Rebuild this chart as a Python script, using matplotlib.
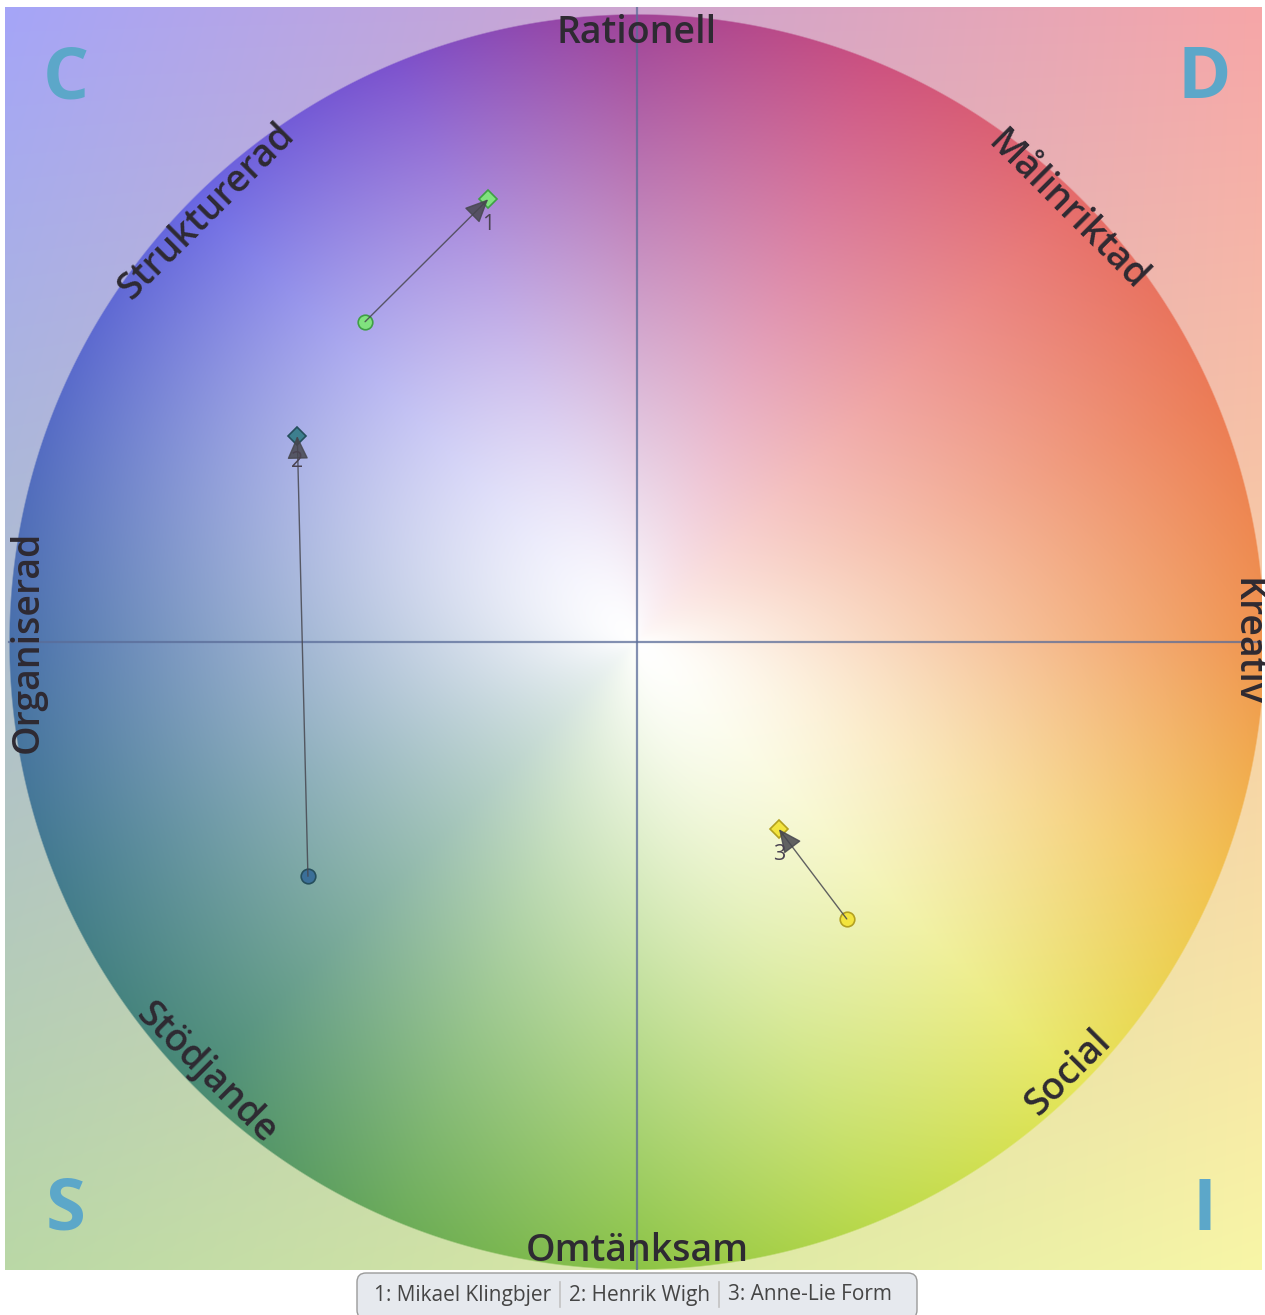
import numpy as np
import matplotlib
matplotlib.use("Agg")
import matplotlib.pyplot as plt
from matplotlib.patches import FancyBboxPatch

# ---------------- data ----------------
axis_labels = ["Kreativ", "Målinriktad", "Rationell", "Strukturerad",
               "Organiserad", "Stödjande", "Omtänksam", "Social"]
axis_angles = [0, 45, 90, 135, 180, 225, 270, 315]
corner_letters = ["C", "D", "S", "I"]
corner_x = [-91.0, 90.3, -91.0, 90.3]
corner_y = [89.6, 89.6, -90.6, -90.6]
person_ids = ["1", "2", "3"]
person_names = ["Mikael Klingbjer", "Henrik Wigh", "Anne-Lie Form"]
start_x = [-43.3, -52.4, 33.4]
start_y = [51.0, -37.3, -44.1]
end_x = [-23.7, -54.1, 22.6]
end_y = [70.5, 32.8, -29.8]
point_fill = ["#80e27e", "#3d7f8f", "#f3e43e"]
start_fill = ["#80e27e", "#3b6f98", "#f3e43e"]
point_edge = ["#3f9f45", "#254e5c", "#b3a020"]

# ---------------- figure ----------------
W, H = 1265, 1315
fig = plt.figure(figsize=(W / 100, H / 100), dpi=100)
fig.patch.set_facecolor("white")
px = 6.28  # pixels per data unit (R = 100)
left_px, right_px, top_px, bot_px = 5, 1262, 7, 1270
cx, cy = 637, 642
ax = fig.add_axes([left_px / W, (H - bot_px) / H,
                   (right_px - left_px) / W, (bot_px - top_px) / H])
x0, x1 = (left_px - cx) / px, (right_px - cx) / px
y0, y1 = (cy - bot_px) / px, (cy - top_px) / px
ax.set_xlim(x0, x1)
ax.set_ylim(y0, y1)
ax.set_axis_off()

# ---------------- background ----------------
nx, ny = right_px - left_px, bot_px - top_px
xs = np.linspace(x0, x1, nx)
ys = np.linspace(y1, y0, ny)
X, Y = np.meshgrid(xs, ys)
r = np.sqrt(X ** 2 + Y ** 2) / 100.0
th = np.degrees(np.arctan2(Y, X)) % 360

anc_a = np.array([0, 22.5, 45, 67.5, 90, 112.5, 135, 157.5, 180, 202.5,
                  225, 247.5, 270, 292.5, 315, 337.5, 360])
anc_c = np.array([
    (240, 148, 78), (236, 124, 86), (230, 108, 106), (205, 82, 128),
    (160, 66, 150), (125, 82, 205), (105, 102, 226), (88, 108, 200),
    (72, 112, 170), (68, 124, 142), (72, 138, 116), (108, 172, 90),
    (140, 196, 70), (188, 218, 76), (230, 230, 90), (242, 194, 80),
    (240, 148, 78)], dtype=float)
hue = np.stack([np.interp(th, anc_a, anc_c[:, k]) for k in range(3)], axis=-1)
p = 1.1 + 0.3 * np.cos(np.radians(2 * (th - 135)))
f = np.clip(r, 0, 1) ** p
inner = 255 * (1 - f[..., None]) + hue * f[..., None]

# outside: bilinear corner gradient
TL = np.array([165, 165, 248.]); TR = np.array([246, 166, 168.])
BL = np.array([186, 216, 166.]); BR = np.array([248, 246, 166.])
u = ((X - x0) / (x1 - x0))[..., None]
v = ((y1 - Y) / (y1 - y0))[..., None]
outer = (TL * (1 - u) * (1 - v) + TR * u * (1 - v) + BL * (1 - u) * v + BR * u * v)
edge = np.clip((r - 1) * 100 * px / 1.5 + 0.5, 0, 1)[..., None]
img = inner * (1 - edge) + outer * edge
ax.imshow(img.astype(np.uint8), extent=(x0, x1, y0, y1), aspect="auto",
          interpolation="bilinear", zorder=0)

# axes cross
ax.plot([-100, 100], [0, 0], color="#5a6c98", lw=1.6, alpha=0.75, zorder=1)
ax.plot([0, 0], [-100.5, 101], color="#5a6c98", lw=1.6, alpha=0.75, zorder=1)

# axis labels around circle
lab_r = 97.0
for lab, ang in zip(axis_labels, axis_angles):
    a = np.radians(ang)
    if 0 < ang <= 180:
        rot = ang - 90
    elif ang == 0:
        rot = -90
    else:
        rot = ang + 90
    ax.text(lab_r * np.cos(a), lab_r * np.sin(a), lab, rotation=rot,
            rotation_mode="anchor", ha="center", va="center",
            fontsize=27, fontweight="semibold", color="#2e2a32",
            family=["Open Sans", "DejaVu Sans"], zorder=3)

# corner letters
for let, lx, ly in zip(corner_letters, corner_x, corner_y):
    ax.text(lx, ly, let, ha="center", va="center", fontsize=52,
            fontweight="bold", color="#5ca7c9",
            family=["Open Sans", "DejaVu Sans"], zorder=3)

# persons
for i in range(len(person_ids)):
    ax.plot(start_x[i], start_y[i], marker="o", ms=10.5, mfc=start_fill[i],
            mec=point_edge[i], mew=1.2, zorder=4)
    ax.plot(end_x[i], end_y[i], marker="D", ms=9, mfc=point_fill[i],
            mec=point_edge[i], mew=1.2, zorder=4)
    ax.annotate("", xy=(end_x[i], end_y[i]), xytext=(start_x[i], start_y[i]),
                arrowprops=dict(arrowstyle="-|>,head_length=0.7,head_width=0.32",
                                color="#47474f", lw=1.0, mutation_scale=21,
                                shrinkA=0, shrinkB=0, alpha=0.85),
                zorder=5)
    ax.annotate(person_ids[i], xy=(end_x[i], end_y[i]), xytext=(0, -18.5),
                textcoords="offset points", ha="center", va="center",
                fontsize=15.5, color="#4a4352",
                family=["Open Sans", "DejaVu Sans"], zorder=6)

# ---------------- legend box ----------------
lax = fig.add_axes([0, 0, 1, 1], facecolor="none")
lax.set_xlim(0, W)
lax.set_ylim(H, 0)
lax.set_axis_off()
lax.add_patch(FancyBboxPatch((357, 1273), 560, 46,
                             boxstyle="round,pad=0,rounding_size=9",
                             fc="#e6e9ee", ec="#9a9a9a", lw=1.0, zorder=1))
fig.canvas.draw()
renderer = fig.canvas.get_renderer()
xpos = 374
for i, (pid, name) in enumerate(zip(person_ids, person_names)):
    t = lax.text(xpos, 1295, f"{pid}: {name}", ha="left", va="center",
                 fontsize=15, color="#454545",
                 family=["Open Sans", "DejaVu Sans"], zorder=2)
    bb = t.get_window_extent(renderer)
    xpos = xpos + bb.width
    if i < len(person_ids) - 1:
        lax.plot([xpos + 9, xpos + 9], [1282, 1307], color="#c2c2c2",
                 lw=1.2, zorder=2)
        xpos += 18

fig.savefig("out.png", dpi=100, facecolor="white")
